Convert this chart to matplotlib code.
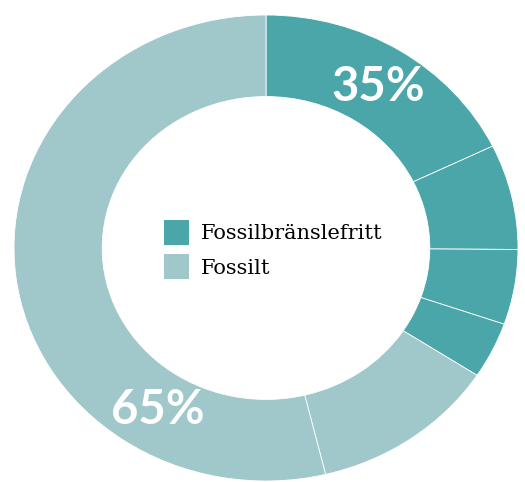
import matplotlib
matplotlib.use("Agg")
import matplotlib.pyplot as plt
from matplotlib.patches import Patch

# andelar (procent) medurs från kl 12
fossilfritt = [17.8, 7.3, 5.2, 3.9]
fossilt = [12.0, 53.8]
etiketter = ["Fossilbränslefritt", "Fossilt"]
summa_text = ["35%", "65%"]

mork = "#4AA6A9"
ljus = "#A0C7C9"

varden = fossilfritt + fossilt
farger = [mork] * len(fossilfritt) + [ljus] * len(fossilt)

fig = plt.figure(figsize=(5.25, 4.82), dpi=100)
# ringen är lite hoptryckt på höjden i originalet
ax = fig.add_axes([14 / 525, 1 / 482, 504 / 525, 466 / 482])

ax.pie(varden, colors=farger, startangle=90, counterclock=False,
       radius=1, wedgeprops=dict(width=0.35, edgecolor="white", linewidth=0.6))
ax.set_aspect("auto")
ax.set_xlim(-1, 1)
ax.set_ylim(-1, 1)
ax.axis("off")

ax.text(0.444, 0.69, summa_text[0], color="white", fontsize=34, fontweight="bold",
        family="Lato", ha="center", va="center")
ax.text(-0.429, -0.695, summa_text[1], color="white", fontsize=34, fontweight="bold",
        family="Lato", ha="center", va="center")

handtag = [Patch(facecolor=mork, edgecolor="none"), Patch(facecolor=ljus, edgecolor="none")]
fig.legend(handtag, etiketter, loc="upper left",
           bbox_to_anchor=(164 / 525, 1 - 220 / 482), bbox_transform=fig.transFigure,
           frameon=False, borderpad=0, borderaxespad=0,
           handlelength=1.2, handleheight=1.47, handletextpad=0.58, labelspacing=0.45,
           prop=dict(family="DejaVu Serif", size=15))

fig.savefig("out.png", dpi=100)
